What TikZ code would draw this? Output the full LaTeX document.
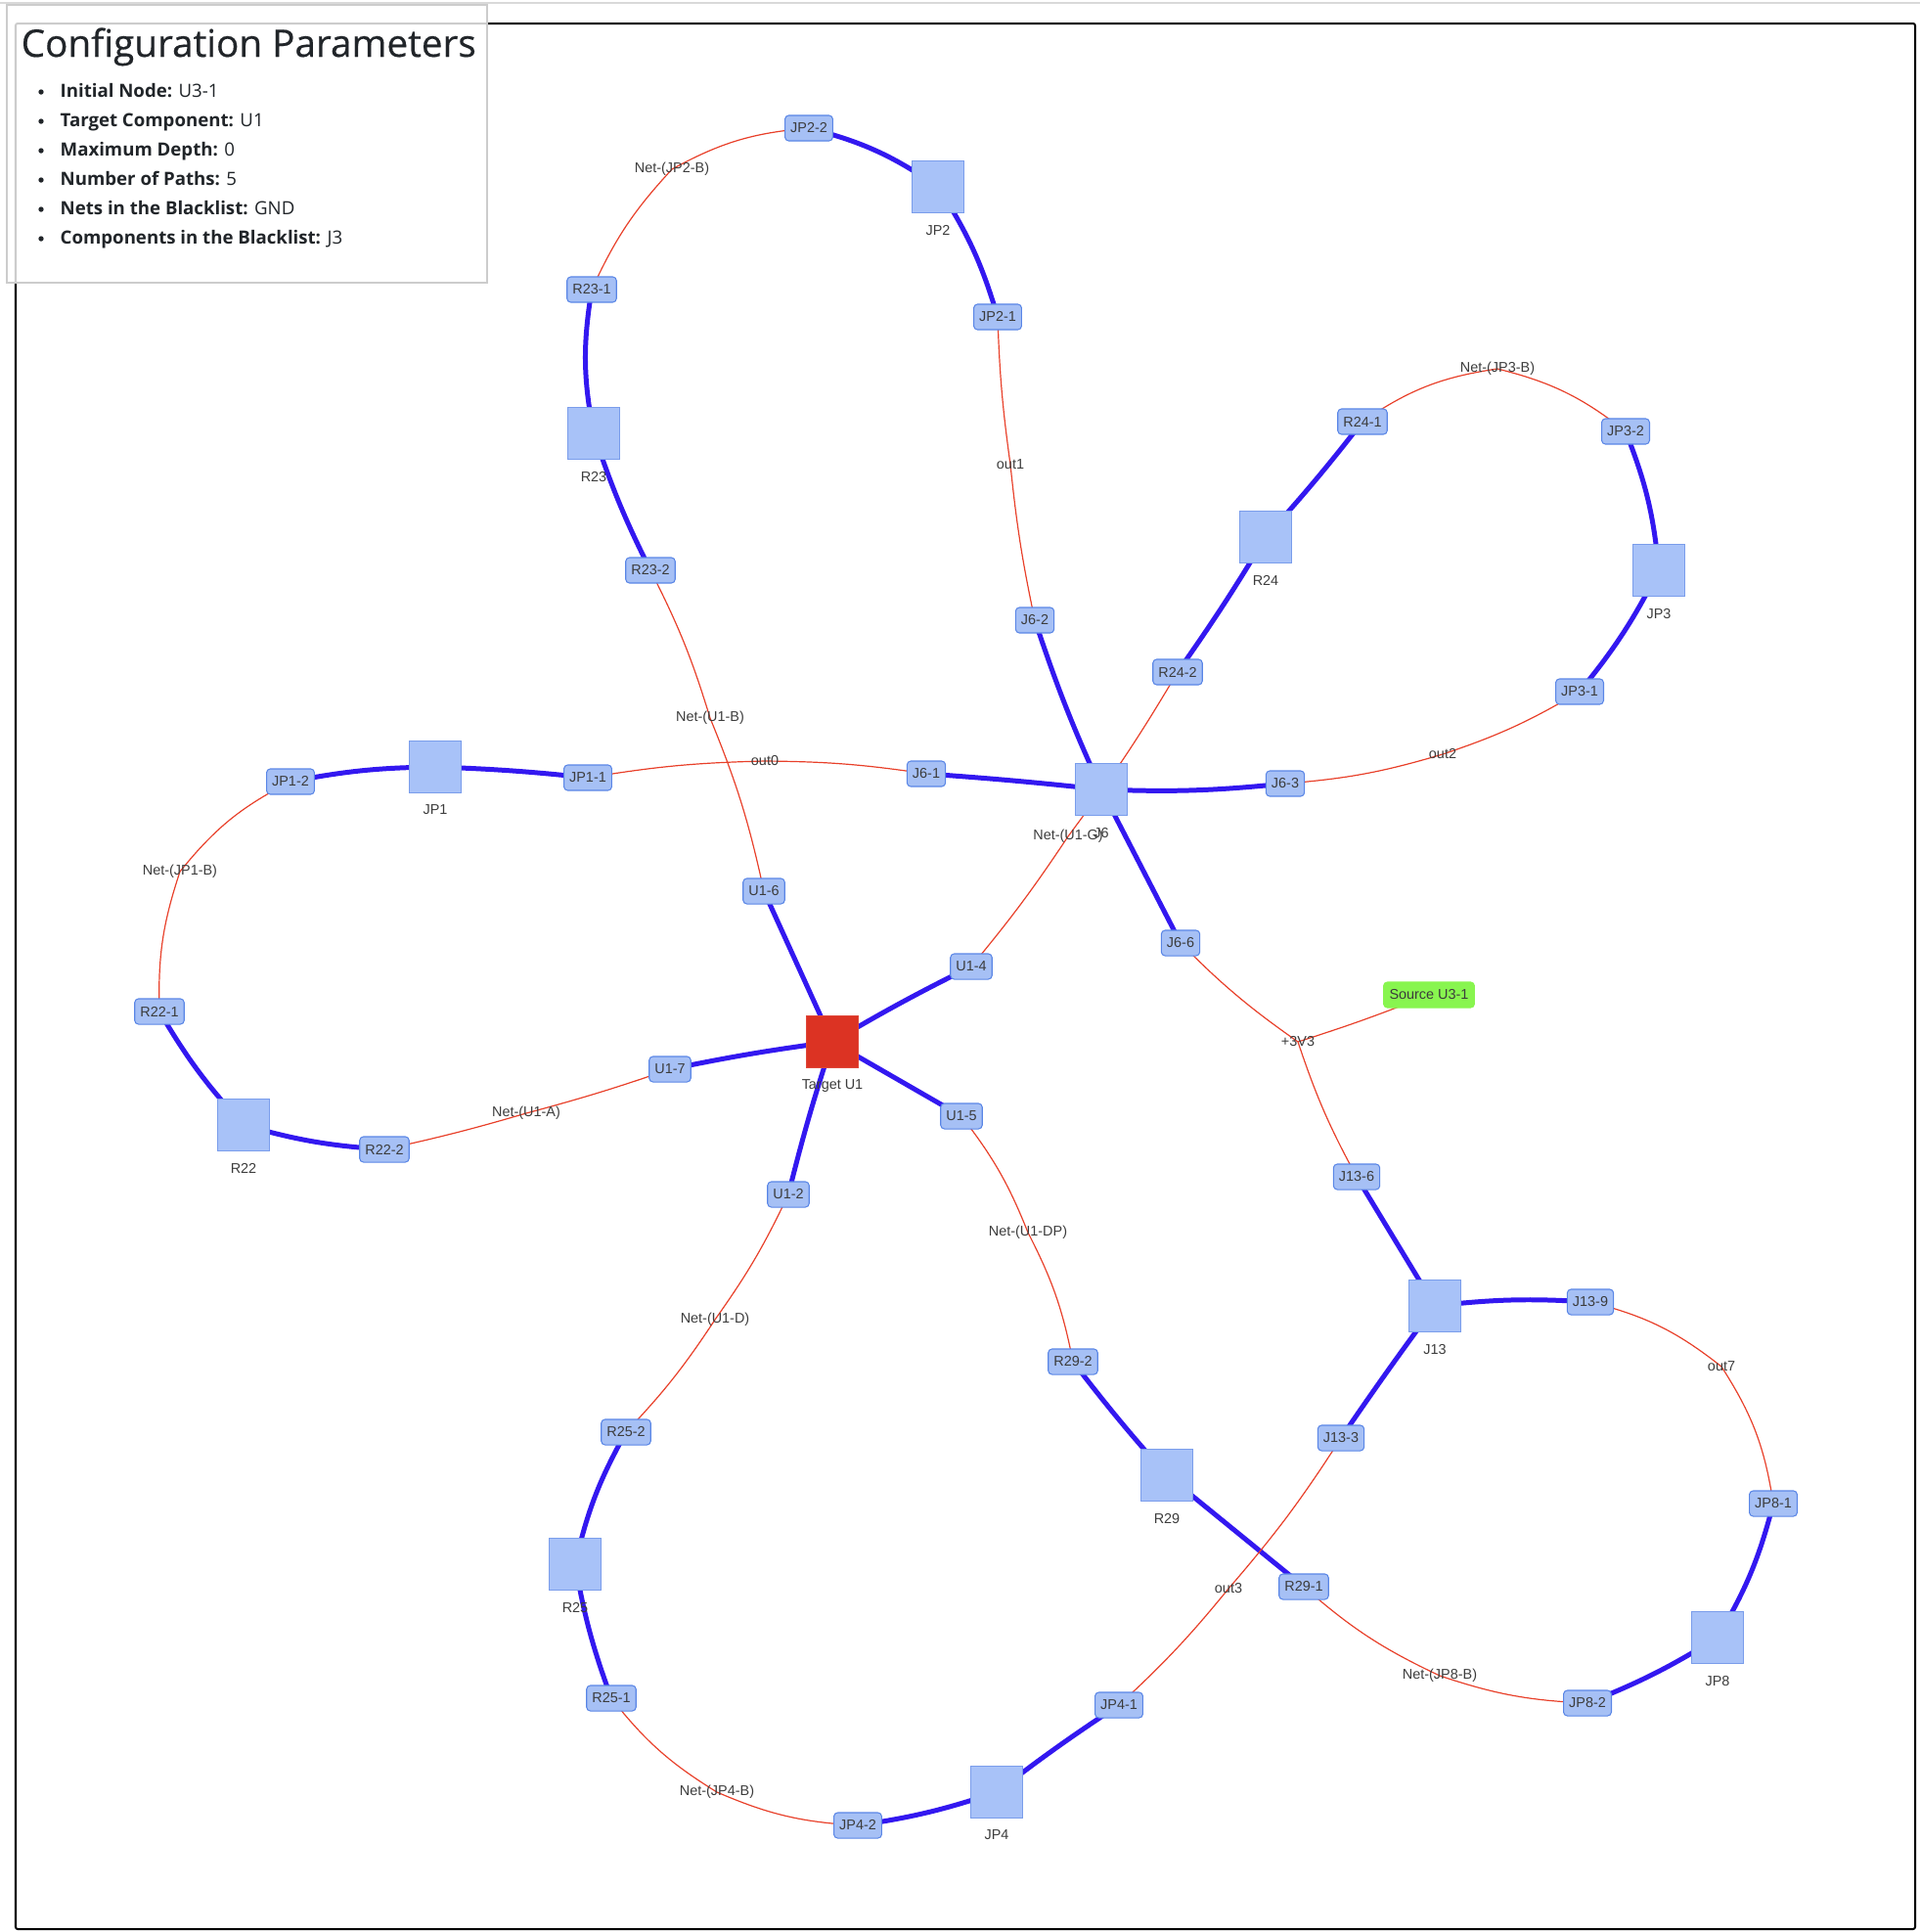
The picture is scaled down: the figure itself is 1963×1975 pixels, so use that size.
\documentclass[tikz,border=0pt]{standalone}
\usepackage{fontspec}
\setmainfont{Liberation Sans}
\newfontfamily\panelfont{Open Sans}
\newfontfamily\titlefont[FakeBold=0.4]{Open Sans}
\usepackage{tikz}
\definecolor{wire}{HTML}{3318F0}
\definecolor{netred}{HTML}{E8402A}
\definecolor{pinl}{HTML}{A6C0F5}
\definecolor{pind}{HTML}{5A86E6}
\definecolor{compl}{HTML}{A8C2F8}
\definecolor{compd}{HTML}{7A9DEB}
\definecolor{tgtred}{HTML}{DC3323}
\definecolor{srcgreen}{HTML}{88F54F}
\definecolor{txt}{HTML}{3C3C3C}
\definecolor{paneltxt}{HTML}{212529}
\newcommand{\pinfont}{\fontsize{4.1}{5}\selectfont}
\pgfdeclarelayer{edges}
\pgfsetlayers{edges,main}
\tikzset{
  pin/.style={draw=pind,fill=pinl,rounded corners=1.1pt,line width=0.3pt,font=\pinfont,text=txt,inner xsep=1.6pt,inner ysep=0pt,minimum height=7.4pt},
  comp/.style={draw=compd,fill=compl,line width=0.3pt,minimum size=15.1pt,inner sep=0pt},
  tgt/.style={comp,draw=tgtred!90!white,fill=tgtred},
  src/.style={pin,draw=srcgreen,fill=srcgreen,inner xsep=1.7pt},
  lbl/.style={font=\pinfont,text=txt,inner sep=0pt,yshift=-3.2pt},
  netlbl/.style={font=\pinfont,text=txt,inner sep=0pt},
  wireln/.style={wire,line width=1.42pt},
  netln/.style={netred,line width=0.34pt},
  panel/.style={draw=black!20,fill=white,fill opacity=0.8,line width=0.3pt},
  item/.style={anchor=base west,inner sep=0pt,text=paneltxt,font=\panelfont\fontsize{5.3}{6}\selectfont},
}

\begin{document}
\begin{tikzpicture}[x=0.01cm,y=-0.01cm]
  \useasboundingbox (0,0) rectangle (1963,1975);
  \draw[black!15,line width=0.6pt] (0,3)--(1963,3);
  \draw[black,line width=0.57pt,rounded corners=0.6pt] (16,24) rectangle (1958,1972);

  % components
  \node[comp,label={[lbl]below:JP2}] (JP2) at (959,191) {};
  \node[comp,label={[lbl]below:R23}] (R23) at (607,443) {};
  \node[comp,label={[lbl]below:R24}] (R24) at (1294,549) {};
  \node[comp,label={[lbl]below:JP3}] (JP3) at (1696,583) {};
  \node[comp,label={[lbl]below:JP1}] (JP1) at (445,784) {};
  \node[comp,label={[lbl]below:J6}] (J6) at (1126,807) {};
  \node[tgt,label={[lbl]below:Target U1}] (U1) at (851,1065) {};
  \node[comp,label={[lbl]below:R22}] (R22) at (249,1150) {};
  \node[comp,label={[lbl]below:J13}] (J13) at (1467,1335) {};
  \node[comp,label={[lbl]below:R29}] (R29) at (1193,1508) {};
  \node[comp,label={[lbl]below:R25}] (R25) at (588,1599) {};
  \node[comp,label={[lbl]below:JP8}] (JP8) at (1756,1674) {};
  \node[comp,label={[lbl]below:JP4}] (JP4) at (1019,1832) {};

  % pins
  \node[pin] (JP2-2) at (827,131) {JP2-2};
  \node[pin] (JP2-1) at (1020,324) {JP2-1};
  \node[pin] (R23-1) at (605,296) {R23-1};
  \node[pin] (R23-2) at (665,583) {R23-2};
  \node[pin] (R24-1) at (1393,431) {R24-1};
  \node[pin] (R24-2) at (1204,687) {R24-2};
  \node[pin] (JP3-2) at (1662,441) {JP3-2};
  \node[pin] (JP3-1) at (1615,707) {JP3-1};
  \node[pin] (J6-2) at (1058,634) {J6-2};
  \node[pin] (J6-1) at (947,791) {J6-1};
  \node[pin] (J6-3) at (1314,801) {J6-3};
  \node[pin] (J6-6) at (1207,964) {J6-6};
  \node[pin] (JP1-2) at (297,799) {JP1-2};
  \node[pin] (JP1-1) at (601,795) {JP1-1};
  \node[pin] (U1-6) at (781,911) {U1-6};
  \node[pin] (U1-4) at (993,988) {U1-4};
  \node[pin] (U1-7) at (685,1093) {U1-7};
  \node[pin] (U1-5) at (983,1141) {U1-5};
  \node[pin] (U1-2) at (806,1221) {U1-2};
  \node[pin] (R22-1) at (163,1034) {R22-1};
  \node[pin] (R22-2) at (393,1175) {R22-2};
  \node[pin] (J13-6) at (1387,1203) {J13-6};
  \node[pin] (J13-9) at (1626,1331) {J13-9};
  \node[pin] (J13-3) at (1371,1470) {J13-3};
  \node[pin] (R29-2) at (1097,1392) {R29-2};
  \node[pin] (R29-1) at (1333,1622) {R29-1};
  \node[pin] (R25-2) at (640,1464) {R25-2};
  \node[pin] (R25-1) at (625,1736) {R25-1};
  \node[pin] (JP8-1) at (1813,1537) {JP8-1};
  \node[pin] (JP8-2) at (1623,1741) {JP8-2};
  \node[pin] (JP4-1) at (1144,1743) {JP4-1};
  \node[pin] (JP4-2) at (877,1866) {JP4-2};
  \node[src] (U3-1) at (1461,1017) {Source U3-1};

  % nets
  \node[netlbl] (nJP2B) at (687,173) {Net-(JP2-B)};
  \node[netlbl] (nout1) at (1033,475) {out1};
  \node[netlbl] (nJP3B) at (1531,377) {Net-(JP3-B)};
  \node[netlbl] (nU1B) at (726,734) {Net-(U1-B)};
  \node[netlbl] (nout0) at (782,778) {out0};
  \node[netlbl] (nout2) at (1475,771) {out2};
  \node[netlbl] (nU1G) at (1092,855) {Net-(U1-G)};
  \node[netlbl] (nJP1B) at (184,891) {Net-(JP1-B)};
  \node[netlbl] (n3V3) at (1327,1065) {+3V3};
  \node[netlbl] (nU1A) at (538,1138) {Net-(U1-A)};
  \node[netlbl] (nU1DP) at (1051,1260) {Net-(U1-DP)};
  \node[netlbl] (nU1D) at (731,1349) {Net-(U1-D)};
  \node[netlbl] (nout7) at (1760,1397) {out7};
  \node[netlbl] (nout3) at (1256,1624) {out3};
  \node[netlbl] (nJP8B) at (1472,1713) {Net-(JP8-B)};
  \node[netlbl] (nJP4B) at (733,1832) {Net-(JP4-B)};

  \begin{pgfonlayer}{edges}
    \draw[wireln] (JP2.center) to[bend right=10] (JP2-2.center);
    \draw[wireln] (JP2.center) to[bend left=8] (JP2-1.center);
    \draw[wireln] (R23.center) to[bend left=10] (R23-1.center);
    \draw[wireln] (R23.center) to[bend right=4] (R23-2.center);
    \draw[wireln] (R24.center) to[bend right=2] (R24-1.center);
    \draw[wireln] (R24.center) to[bend left=2] (R24-2.center);
    \draw[wireln] (JP3.center) to[bend right=8] (JP3-2.center);
    \draw[wireln] (JP3.center) to[bend left=6] (JP3-1.center);
    \draw[wireln] (J6.center) to[bend left=3] (J6-2.center);
    \draw[wireln] (J6.center) to[bend right=1] (J6-1.center);
    \draw[wireln] (J6.center) to[bend right=4] (J6-3.center);
    \draw[wireln] (J6.center) -- (J6-6.center);
    \draw[wireln] (JP1.center) to[bend right=5] (JP1-2.center);
    \draw[wireln] (JP1.center) to[bend left=2] (JP1-1.center);
    \draw[wireln] (U1.center) -- (U1-6.center);
    \draw[wireln] (U1.center) to[bend left=2] (U1-4.center);
    \draw[wireln] (U1.center) to[bend right=2] (U1-7.center);
    \draw[wireln] (U1.center) -- (U1-5.center);
    \draw[wireln] (U1.center) to[bend right=2] (U1-2.center);
    \draw[wireln] (R22.center) to[bend left=6] (R22-1.center);
    \draw[wireln] (R22.center) to[bend right=6] (R22-2.center);
    \draw[wireln] (J13.center) -- (J13-6.center);
    \draw[wireln] (J13.center) to[bend left=5] (J13-9.center);
    \draw[wireln] (J13.center) to[bend right=1] (J13-3.center);
    \draw[wireln] (R29.center) to[bend left=2] (R29-2.center);
    \draw[wireln] (R29.center) -- (R29-1.center);
    \draw[wireln] (R25.center) to[bend left=8] (R25-2.center);
    \draw[wireln] (R25.center) to[bend right=5] (R25-1.center);
    \draw[wireln] (JP8.center) to[bend right=8] (JP8-1.center);
    \draw[wireln] (JP8.center) to[bend left=5] (JP8-2.center);
    \draw[wireln] (JP4.center) to[bend left=2] (JP4-1.center);
    \draw[wireln] (JP4.center) to[bend left=5] (JP4-2.center);

    \draw[netln] (JP2-2.center) to[bend right=12] (nJP2B.center) to[bend right=9] (R23-1.center);
    \draw[netln] (JP2-1.center) to[bend right=3] (nout1.center) to[bend right=3] (J6-2.center);
    \draw[netln] (R24-1.center) to[bend left=13] (nJP3B.center) to[bend left=12] (JP3-2.center);
    \draw[netln] (R23-2.center) to[bend left=5] (nU1B.center) to[bend left=5] (U1-6.center);
    \draw[netln] (JP1-1.center) to[bend left=4] (nout0.center) to[bend left=4] (J6-1.center);
    \draw[netln] (J6-3.center) to[bend right=6] (nout2.center) to[bend right=6] (JP3-1.center);
    \draw[netln] (U1-4.center) to[bend right=3] (nU1G.center) to[bend right=3] (R24-2.center);
    \draw[netln] (JP1-2.center) to[bend right=12] (nJP1B.center) to[bend right=10] (R22-1.center);
    \draw[netln] (J6-6.center) to[bend right=5] (n3V3.center) to[bend right=5] (J13-6.center);
    \draw[netln] (U3-1.center) to[bend left=2] (n3V3.center);
    \draw[netln] (R22-2.center) to[bend right=2] (nU1A.center) to[bend right=2] (U1-7.center);
    \draw[netln] (U1-5.center) to[bend left=8] (nU1DP.center) to[bend left=8] (R29-2.center);
    \draw[netln] (U1-2.center) to[bend left=5] (nU1D.center) to[bend left=5] (R25-2.center);
    \draw[netln] (J13-9.center) to[bend left=12] (nout7.center) to[bend left=12] (JP8-1.center);
    \draw[netln] (J13-3.center) to[bend left=4] (nout3.center) to[bend left=4] (JP4-1.center);
    \draw[netln] (R29-1.center) to[bend right=8] (nJP8B.center) to[bend right=8] (JP8-2.center);
    \draw[netln] (R25-1.center) to[bend right=10] (nJP4B.center) to[bend right=10] (JP4-2.center);
  \end{pgfonlayer}

  % configuration panel
  \draw[panel] (7,5) rectangle (498,289);
  \node[anchor=base west,inner sep=0pt,text=paneltxt,font=\titlefont\fontsize{11}{12}\selectfont] (title) at (21,58) {Configuration Parameters};
  \foreach \k in {0,...,5} \fill[paneltxt] (42,{94+30*\k}) circle (2.7);
  \node[item] (it1) at (61,99) {\textbf{Initial Node:} U3-1};
  \node[item] (it2) at (61,129) {\textbf{Target Component:} U1};
  \node[item] (it3) at (61,159) {\textbf{Maximum Depth:} 0};
  \node[item] (it4) at (61,189) {\textbf{Number of Paths:} 5};
  \node[item] (it5) at (61,219) {\textbf{Nets in the Blacklist:} GND};
  \node[item] (it6) at (61,249) {\textbf{Components in the Blacklist:} J3};
\end{tikzpicture}
\end{document}
